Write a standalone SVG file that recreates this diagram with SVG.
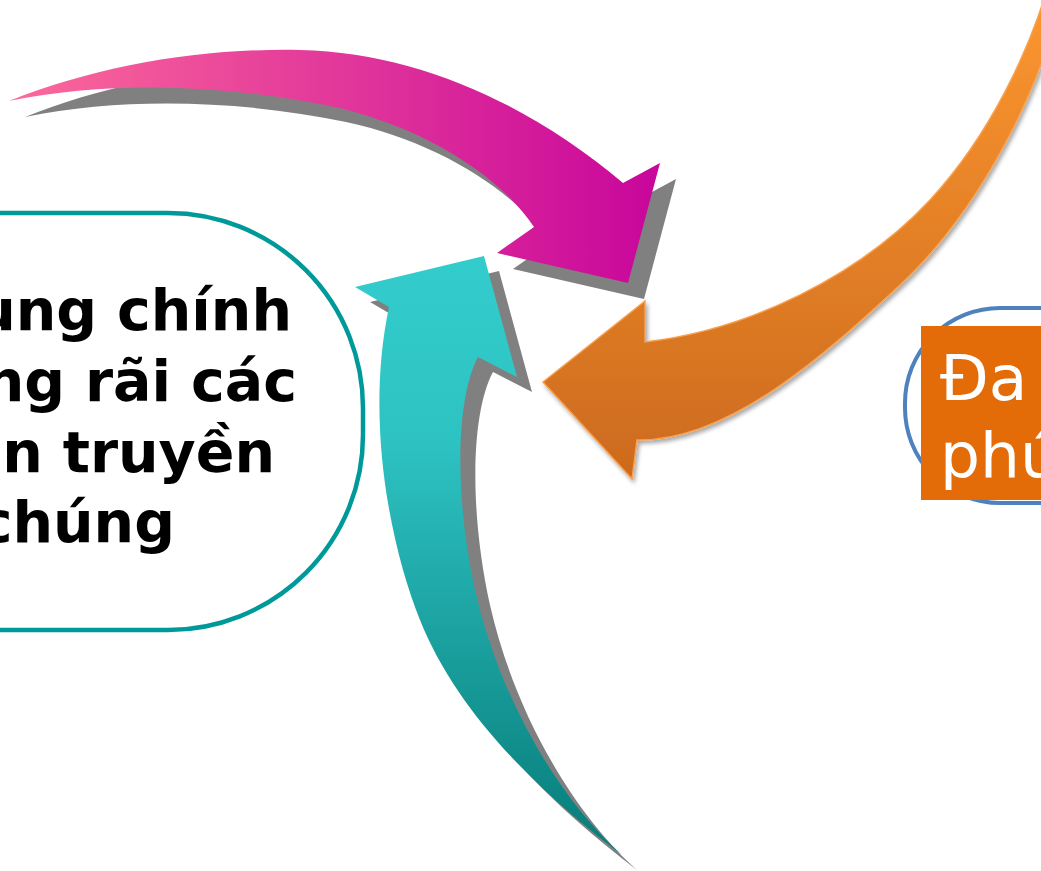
<svg xmlns="http://www.w3.org/2000/svg" width="1041" height="871" viewBox="0 0 1041 871">
  <defs>
    <linearGradient id="gPink" gradientUnits="userSpaceOnUse" x1="9" y1="0" x2="660" y2="0">
      <stop offset="0" stop-color="#fc6a9a"/>
      <stop offset="1" stop-color="#c8069b"/>
    </linearGradient>
    <linearGradient id="gTeal" gradientUnits="userSpaceOnUse" x1="0" y1="256" x2="0" y2="855">
      <stop offset="0" stop-color="#33cccc"/>
      <stop offset="0.3" stop-color="#2ec3c3"/>
      <stop offset="1" stop-color="#067c79"/>
    </linearGradient>
    <linearGradient id="gOrange" gradientUnits="userSpaceOnUse" x1="0" y1="0" x2="0" y2="480">
      <stop offset="0" stop-color="#fb962f"/>
      <stop offset="1" stop-color="#cc6a1e"/>
    </linearGradient>
    <filter id="soft" x="-10%" y="-10%" width="130%" height="130%">
      <feGaussianBlur in="SourceAlpha" stdDeviation="2"/>
      <feOffset dx="2" dy="3" result="b"/>
      <feComponentTransfer><feFuncA type="linear" slope="0.35"/></feComponentTransfer>
      <feMerge><feMergeNode/><feMergeNode in="SourceGraphic"/></feMerge>
    </filter>
  </defs>
  <style>
    .shadow { fill: #808080; }
    .lefttext { font-family: "DejaVu Sans", Verdana, sans-serif; font-weight: bold; font-size: 57px; fill: #000000; text-anchor: end; }
    .righttext { font-family: "DejaVu Sans", Verdana, sans-serif; font-size: 63px; fill: #ffffff; }
  </style>
  <rect width="1041" height="871" fill="#ffffff"/>

  <g id="node-left">
    <rect x="-200" y="213" width="563" height="417" rx="195" ry="195" fill="#ffffff" stroke="#009999" stroke-width="4.5"/>
    <text class="lefttext" x="292" y="330">ung chính</text>
    <text class="lefttext" x="297" y="401">ng rãi các</text>
    <text class="lefttext" x="275" y="472">n truyền</text>
    <text class="lefttext" x="175" y="542">chúng</text>
  </g>

  <g id="node-right">
    <rect x="905" y="308" width="300" height="195" rx="95" ry="95" fill="#ffffff" stroke="#4f81bd" stroke-width="4"/>
    <rect x="921" y="326" width="130" height="174" fill="#e36c09"/>
    <text class="righttext" x="940" y="400">Đa</text>
    <text class="righttext" x="940" y="477">phú</text>
  </g>

  <g id="connectors">
    <g id="arrow-pink">
      <path class="shadow" transform="translate(16,16)" d="M 9,101 C 100,65 200,48 300,50 C 420,53 530,105 623,183 L 660,163 L 628,283 L 497,253 L 534,227 C 500,175 420,125 330,106 C 230,85 110,80 9,101 Z"/>
      <path fill="url(#gPink)" d="M 9,101 C 100,65 200,48 300,50 C 420,53 530,105 623,183 L 660,163 L 628,283 L 497,253 L 534,227 C 500,175 420,125 330,106 C 230,85 110,80 9,101 Z"/>
    </g>
    <g id="arrow-teal">
      <path class="shadow" transform="translate(15,15)" d="M 622,855 C 550,800 460,720 420,620 C 390,545 365,420 389,307 L 355,287 L 484,256 L 517,377 L 478,357 C 455,400 455,500 475,590 C 500,700 560,800 622,855 Z"/>
      <path fill="url(#gTeal)" d="M 622,855 C 550,800 460,720 420,620 C 390,545 365,420 389,307 L 355,287 L 484,256 L 517,377 L 478,357 C 455,400 455,500 475,590 C 500,700 560,800 622,855 Z"/>
    </g>
    <g id="arrow-orange" filter="url(#soft)">
      <path fill="url(#gOrange)" stroke="#f9a04e" stroke-width="1.5" stroke-linejoin="miter" d="M 543,382 L 645,301 L 645,342 C 750,330 860,275 930,200 C 990,135 1030,50 1050,-20 L 1064,-20 C 1045,90 975,215 900,285 C 830,350 730,442 637,440 L 632,479 Z"/>
    </g>
  </g>
</svg>
